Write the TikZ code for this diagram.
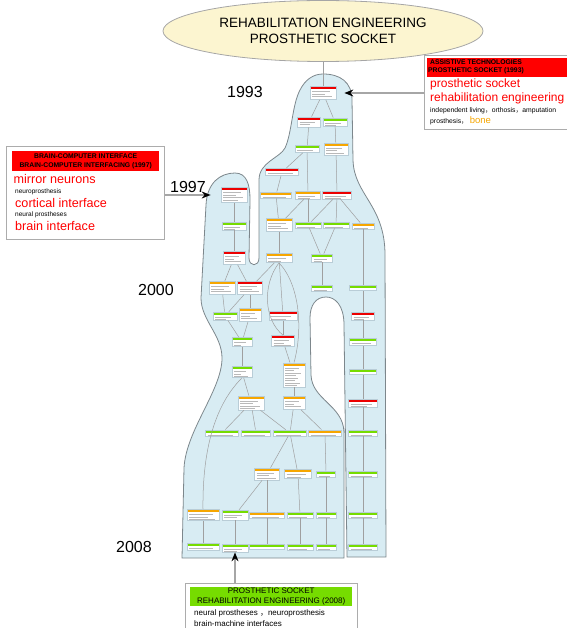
\documentclass[tikz,border=0pt]{standalone}
\usepackage{fontspec}
\setmainfont{Liberation Sans}
\newfontfamily\cjk{Noto Sans CJK SC}
\usetikzlibrary{shapes.geometric,arrows.meta}

\definecolor{blobfill}{RGB}{216,236,243}
\definecolor{blobline}{RGB}{125,135,140}
\definecolor{titlefill}{RGB}{252,245,208}
\definecolor{hdred}{RGB}{236,0,0}
\definecolor{hdorange}{RGB}{246,166,0}
\definecolor{hdgreen}{RGB}{118,220,0}
\definecolor{topicline}{RGB}{185,205,215}

\newcommand{\wcomma}{{\cjk ，}}

\tikzset{
  topic/.style={draw=topicline, fill=white, line width=0.7pt, inner sep=0pt,
    path picture={
      \fill[#1] (path picture bounding box.north west) rectangle ([yshift=-2.8pt]path picture bounding box.north east);
      \foreach \d/\e in {5/6,7.5/11,10/4,12.5/9,15/7,17.5/10,20/5,22.5/8}
        \draw[gray!55, line width=0.6pt] ([xshift=2pt,yshift=-\d pt]path picture bounding box.north west) -- ([xshift=-\e pt,yshift=-\d pt]path picture bounding box.north east);
    }},
  link/.style={draw=gray!75, line width=0.5pt},
  pointer/.style={draw=gray!70, line width=1.3pt, -{Stealth[length=9pt,width=7pt,black]}},
  callout/.style={draw=gray!65, line width=1pt, fill=white, inner sep=0pt},
  header/.style={inner sep=0pt, minimum height=19pt},
  headtext/.style={inner sep=0pt, align=center, font=\bfseries\fontsize{6.8}{8.4}\selectfont},
  kwbig/.style={inner sep=0pt, anchor=west, text=red, font=\fontsize{12.4}{14}\selectfont},
  kwsmall/.style={inner sep=0pt, anchor=west, font=\fontsize{6.8}{8}\selectfont},
  year/.style={inner sep=0pt, font=\fontsize{16}{18}\selectfont}
}

\begin{document}
\begin{tikzpicture}[x=1pt, y=-1pt]
    \useasboundingbox (0,0) rectangle (566,628);

    % Draw the blob
    \draw[fill=blobfill, draw=blobline, line width=0.8pt]
      (182,558) -- (184,468)
      .. controls (186,430) and (222,390) .. (222,358)
      .. controls (222,335) and (201,320) .. (201,298)
      -- (206,205)
      .. controls (207,183) and (220,173) .. (235,173)
      .. controls (247,173) and (250,185) .. (250,200)
      -- (249,258)
      .. controls (249,267) and (259,267) .. (259,258)
      -- (259,180)
      .. controls (259,162) and (280,158) .. (285,148)
      .. controls (292,133) and (292,105) .. (300,90)
      .. controls (305,80) and (313,74) .. (323,74)
      .. controls (340,74) and (352,82) .. (352,100)
      -- (353,160)
      .. controls (354,195) and (385,205) .. (385,255)
      -- (386,557) -- (347,557)
      -- (344,325)
      .. controls (344,305) and (335,297) .. (326,297)
      .. controls (316,297) and (310,305) .. (310,318)
      -- (311,375)
      .. controls (312,400) and (343,405) .. (344,432)
      -- (344,558) -- cycle;

    % Draw title
    \node[ellipse, draw=gray!70, fill=titlefill, line width=0.8pt, minimum width=320pt, minimum height=61pt,
      inner sep=0pt, align=center, font=\fontsize{13.5}{15.5}\selectfont] (title) at (323,31)
      {REHABILITATION ENGINEERING\\PROSTHETIC SOCKET};

    % Draw topics
    \foreach \n/\x/\y/\w/\h/\c in {
      a1/323/93/26/13/hdred, a2/309/122/23/10/hdred, a3/335/122/24/8/hdgreen,
      a4/307/149/24/7/hdgreen, a5/336/149/24/12/hdorange, a6/282/172/33/7/hdred,
      b1/276/195/31/6/hdorange, b2/308/195/25/8/hdorange, b3/337/195/29/8/hdred,
      c1/279/225/26/13/hdorange, c2/308/225/26/6/hdgreen, c3/336/225/26/6/hdgreen, c4/363/226/22/6/hdorange,
      f1/234/195/26/15/hdred, f2/234/226/24/8/hdgreen, f3/234/258/22/13/hdred,
      d1/279/258/26/9/hdorange, d2/322/258/21/8/hdgreen,
      e1/222/288/26/13/hdorange, e2/250/288/25/13/hdred, e3/322/288/21/6/hdgreen, e4/363/288/27/5/hdgreen,
      g1/225/316/24/8/hdgreen, g2/250/315/22/13/hdorange, g3/283/316/28/9/hdred, g4/363/316/23/8/hdred,
      h1/242/342/20/9/hdgreen, h2/283/341/23/11/hdred, h3/363/342/27/7/hdgreen,
      i1/242/372/20/11/hdgreen, i2/294/375/22/24/hdorange, i3/363/372/27/5/hdgreen,
      j1/251/403/26/14/hdorange, j2/294/403/22/13/hdorange, j3/363/403/29/8/hdred,
      k1/222/433/33/6/hdgreen, k2/256/433/29/6/hdgreen, k3/290/433/33/6/hdgreen,
      k4/325/433/33/6/hdorange, k5/363/433/29/6/hdgreen,
      l1/267/474/25/12/hdorange, l2/298/474/27/9/hdorange, l3/326/474/19/6/hdgreen, l4/363/474/29/6/hdgreen,
      m1/203/515/32/11/hdorange, m2/235/515/26/10/hdgreen, m3/267/515/35/6/hdorange,
      m4/300/515/26/6/hdgreen, m5/326/515/20/6/hdgreen, m6/363/515/29/6/hdgreen,
      n1/203/547/32/7/hdgreen, n2/235/548/26/8/hdgreen, n3/267/547/35/5/hdgreen,
      n4/300/547/26/6/hdgreen, n5/326/547/20/6/hdgreen, n6/363/547/29/6/hdgreen}
      \node[topic=\c, minimum width=\w, minimum height=\h] (\n) at (\x,\y) {};

    % Draw links
    \draw[link] (title) -- (a1);
    \foreach \a/\b in {a1/a2, a1/a3, a2/a4, a3/a5, a4/a6, a4/b2, a5/b3, a6/b1,
      b1/c1, b2/c1, b2/c2, b3/c2, b3/c3, b3/c4,
      c1/d1, c2/d2, c3/d2, d2/e3, c4/e4,
      f1/f2, f2/f3, f3/e1, f3/e2, d1/e2, d1/g3, g3/h2, h2/i2,
      e1/g1, e2/g1, e2/g2, g1/h1, g2/h1, h1/i1, i1/j1, i2/j2,
      j1/k1, j1/k2, j1/k3, j2/k3, j2/k4,
      k3/l1, k3/l2, k4/l3, l1/m2, l1/m3, l2/m4, l3/m5,
      m1/n1, m2/n2, m3/n3, m4/n4, m5/n5, m6/n6,
      e4/g4, g4/h3, h3/i3, i3/j3, j3/k5, k5/l4, l4/m6}
      \draw[link] (\a) -- (\b);
    \draw[link] (d1.south) .. controls (262,285) and (264,320) .. (h2.north);
    \draw[link] (d1.south) .. controls (300,285) and (303,330) .. (i2.north);
    \draw[link] (i1.south) .. controls (228,392) and (202,425) .. (m1.north);

    % Years
    \node[year] (y1993) at (245,92) {1993};
    \node[year] (y1997) at (188,187) {1997};
    \node[year] (y2000) at (156,290) {2000};
    \node[year] (y2008) at (134,547) {2008};

    % Right callout
    \node[callout, minimum width=146pt, minimum height=74pt, anchor=north west] (at93) at (424,55) {};
    \node[header, fill=red, minimum width=140pt, anchor=north west] (at93hd) at (427,58) {};
    \node[headtext, anchor=west] (at93tx) at (428,67) {ASSISTIVE TECHNOLOGIES\\PROSTHETIC SOCKET (1993)};
    \node[kwbig, font=\fontsize{12}{14}\selectfont] (at93k1) at (430,84) {prosthetic socket};
    \node[kwbig, font=\fontsize{12}{14}\selectfont] (at93k2) at (430,98) {rehabilitation engineering};
    \node[kwsmall] (at93k3) at (430,111) {independent living\wcomma orthosis\wcomma amputation};
    \node[kwsmall] (at93k4) at (430,120.5) {prosthesis\wcomma\ {\color{hdorange}\fontsize{9.5}{11}\selectfont bone}};
    \draw[pointer, shorten >=8pt] (at93.west |- a1) -- (a1.east);

    % Left callout
    \node[callout, minimum width=158pt, minimum height=93pt, anchor=north west] (bci97) at (6,146) {};
    \node[header, fill=red, minimum width=147pt, minimum height=20pt, anchor=north west] (bci97hd) at (12,151) {};
    \node[headtext] (bci97tx) at (bci97hd) {BRAIN-COMPUTER INTERFACE\\BRAIN-COMPUTER INTERFACING (1997)};
    \node[kwbig, font=\fontsize{12.6}{14}\selectfont] (bci97k1) at (13.5,179) {mirror neurons};
    \node[kwsmall, font=\fontsize{6.5}{8}\selectfont] (bci97k2) at (15,191.5) {neuroprosthesis};
    \node[kwbig, font=\fontsize{12.6}{14}\selectfont] (bci97k3) at (15,202.5) {cortical interface};
    \node[kwsmall, font=\fontsize{6.5}{8}\selectfont] (bci97k4) at (15,215) {neural prostheses};
    \node[kwbig, font=\fontsize{12.6}{14}\selectfont] (bci97k5) at (15,226) {brain interface};
    \draw[pointer, shorten >=10pt] (bci97.east |- f1) -- (f1.west);

    % Bottom callout
    \node[callout, minimum width=172pt, minimum height=60pt, anchor=north west] (ps08) at (185,583) {};
    \node[header, fill=hdgreen, minimum width=162pt, anchor=north west] (ps08hd) at (190,587) {};
    \node[inner sep=0pt, align=center, font=\fontsize{8}{10}\selectfont] (ps08tx) at (ps08hd)
      {PROSTHETIC SOCKET\\REHABILITATION ENGINEERING (2008)};
    \node[kwsmall, font=\fontsize{8}{10}\selectfont] (ps08k1) at (194,613.5) {neural prostheses \wcomma neuroprosthesis};
    \node[kwsmall, font=\fontsize{8}{10}\selectfont] (ps08k2) at (194,623.5) {brain-machine interfaces};
    \draw[pointer] (ps08.north -| n2) -- (n2.south);
\end{tikzpicture}
\end{document}
